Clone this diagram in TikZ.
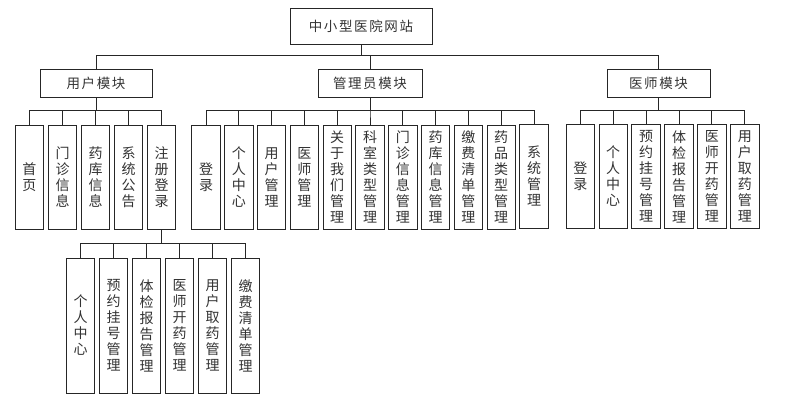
\documentclass[tikz,border=0pt]{standalone}
\usepackage{fontspec}
\newfontfamily\cjk{Noto Sans CJK SC}
\newfontfamily\cjkwide[LetterSpace=12]{Noto Sans CJK SC}
\begin{document}
\begin{tikzpicture}[x=1pt,y=-1pt,
  box/.style={draw=black!85, line width=0.9pt, inner sep=0pt, text=black!80},
  topbox/.style={box, font=\cjkwide\fontsize{13.5}{16}\selectfont},
  leaf/.style={box, minimum width=28.5pt, minimum height=104pt, align=center, font=\cjk\fontsize{14}{16}\selectfont},
  subleaf/.style={leaf, minimum height=135pt},
  conn/.style={draw=black!85, line width=0.9pt}]
\useasboundingbox (0,0) rectangle (801,411);
\fill[white] (0,0) rectangle (801,411);
% top
\node[topbox, minimum width=142pt, minimum height=36pt] (root) at (361,26) {中小型医院网站};
\node[topbox, minimum width=112pt, minimum height=28pt] (um) at (96,83) {用户模块};
\node[topbox, minimum width=104pt, minimum height=28pt] (am) at (370,83) {管理员模块};
\node[topbox, minimum width=103pt, minimum height=28pt] (dm) at (658.5,83) {医师模块};
\foreach \c in {um,am,dm} \draw[conn] (root.south) -- ++(0,11) -| (\c.north);
% user children
\node[leaf] (u1) at (29.5,177) {首\\页};
\node[leaf] (u2) at (62.5,177) {门\\诊\\信\\息};
\node[leaf] (u3) at (95.5,177) {药\\库\\信\\息};
\node[leaf] (u4) at (128.5,177) {系\\统\\公\\告};
\node[leaf] (u5) at (161.5,177) {注\\册\\登\\录};
\foreach \c in {u1,u2,u3,u4,u5} \draw[conn] (um.south) -- ++(0,13) -| (\c.north);
% admin children
\node[leaf] (a1) at (206,177) {登\\录};
\node[leaf] (a2) at (238.8,177) {个\\人\\中\\心};
\node[leaf] (a3) at (271.6,177) {用\\户\\管\\理};
\node[leaf] (a4) at (304.4,177) {医\\师\\管\\理};
\node[leaf] (a5) at (337.2,177) {关\\于\\我\\们\\管\\理};
\node[leaf] (a6) at (370,177) {科\\室\\类\\型\\管\\理};
\node[leaf] (a7) at (402.8,177) {门\\诊\\信\\息\\管\\理};
\node[leaf] (a8) at (435.6,177) {药\\库\\信\\息\\管\\理};
\node[leaf] (a9) at (468.4,177) {缴\\费\\清\\单\\管\\理};
\node[leaf] (a10) at (501.2,177) {药\\品\\类\\型\\管\\理};
\node[leaf] (a11) at (534,176) {系\\统\\管\\理};
\foreach \c in {a1,a2,a3,a4,a5,a6,a7,a8,a9,a10,a11} \draw[conn] (am.south) -- ++(0,13) -| (\c.north);
% doctor children
\node[leaf] (d1) at (580.3,176.5) {登\\录};
\node[leaf] (d2) at (613.2,176.5) {个\\人\\中\\心};
\node[leaf] (d3) at (646.1,176.5) {预\\约\\挂\\号\\管\\理};
\node[leaf] (d4) at (679,176.5) {体\\检\\报\\告\\管\\理};
\node[leaf] (d5) at (711.9,176.5) {医\\师\\开\\药\\管\\理};
\node[leaf] (d6) at (744.8,176.5) {用\\户\\取\\药\\管\\理};
\foreach \c in {d1,d2,d3,d4,d5,d6} \draw[conn] (dm.south) -- ++(0,13) -| (\c.north);
% sub children of 注册登录
\node[subleaf] (s1) at (80.5,325.5) {个\\人\\中\\心};
\node[subleaf] (s2) at (113.5,325.5) {预\\约\\挂\\号\\管\\理};
\node[subleaf] (s3) at (146.5,325.5) {体\\检\\报\\告\\管\\理};
\node[subleaf] (s4) at (179.5,325.5) {医\\师\\开\\药\\管\\理};
\node[subleaf] (s5) at (212.5,325.5) {用\\户\\取\\药\\管\\理};
\node[subleaf] (s6) at (245.5,325.5) {缴\\费\\清\\单\\管\\理};
\foreach \c in {s1,s2,s3,s4,s5,s6} \draw[conn] (u5.south) -- ++(0,14) -| (\c.north);
\end{tikzpicture}
\end{document}
